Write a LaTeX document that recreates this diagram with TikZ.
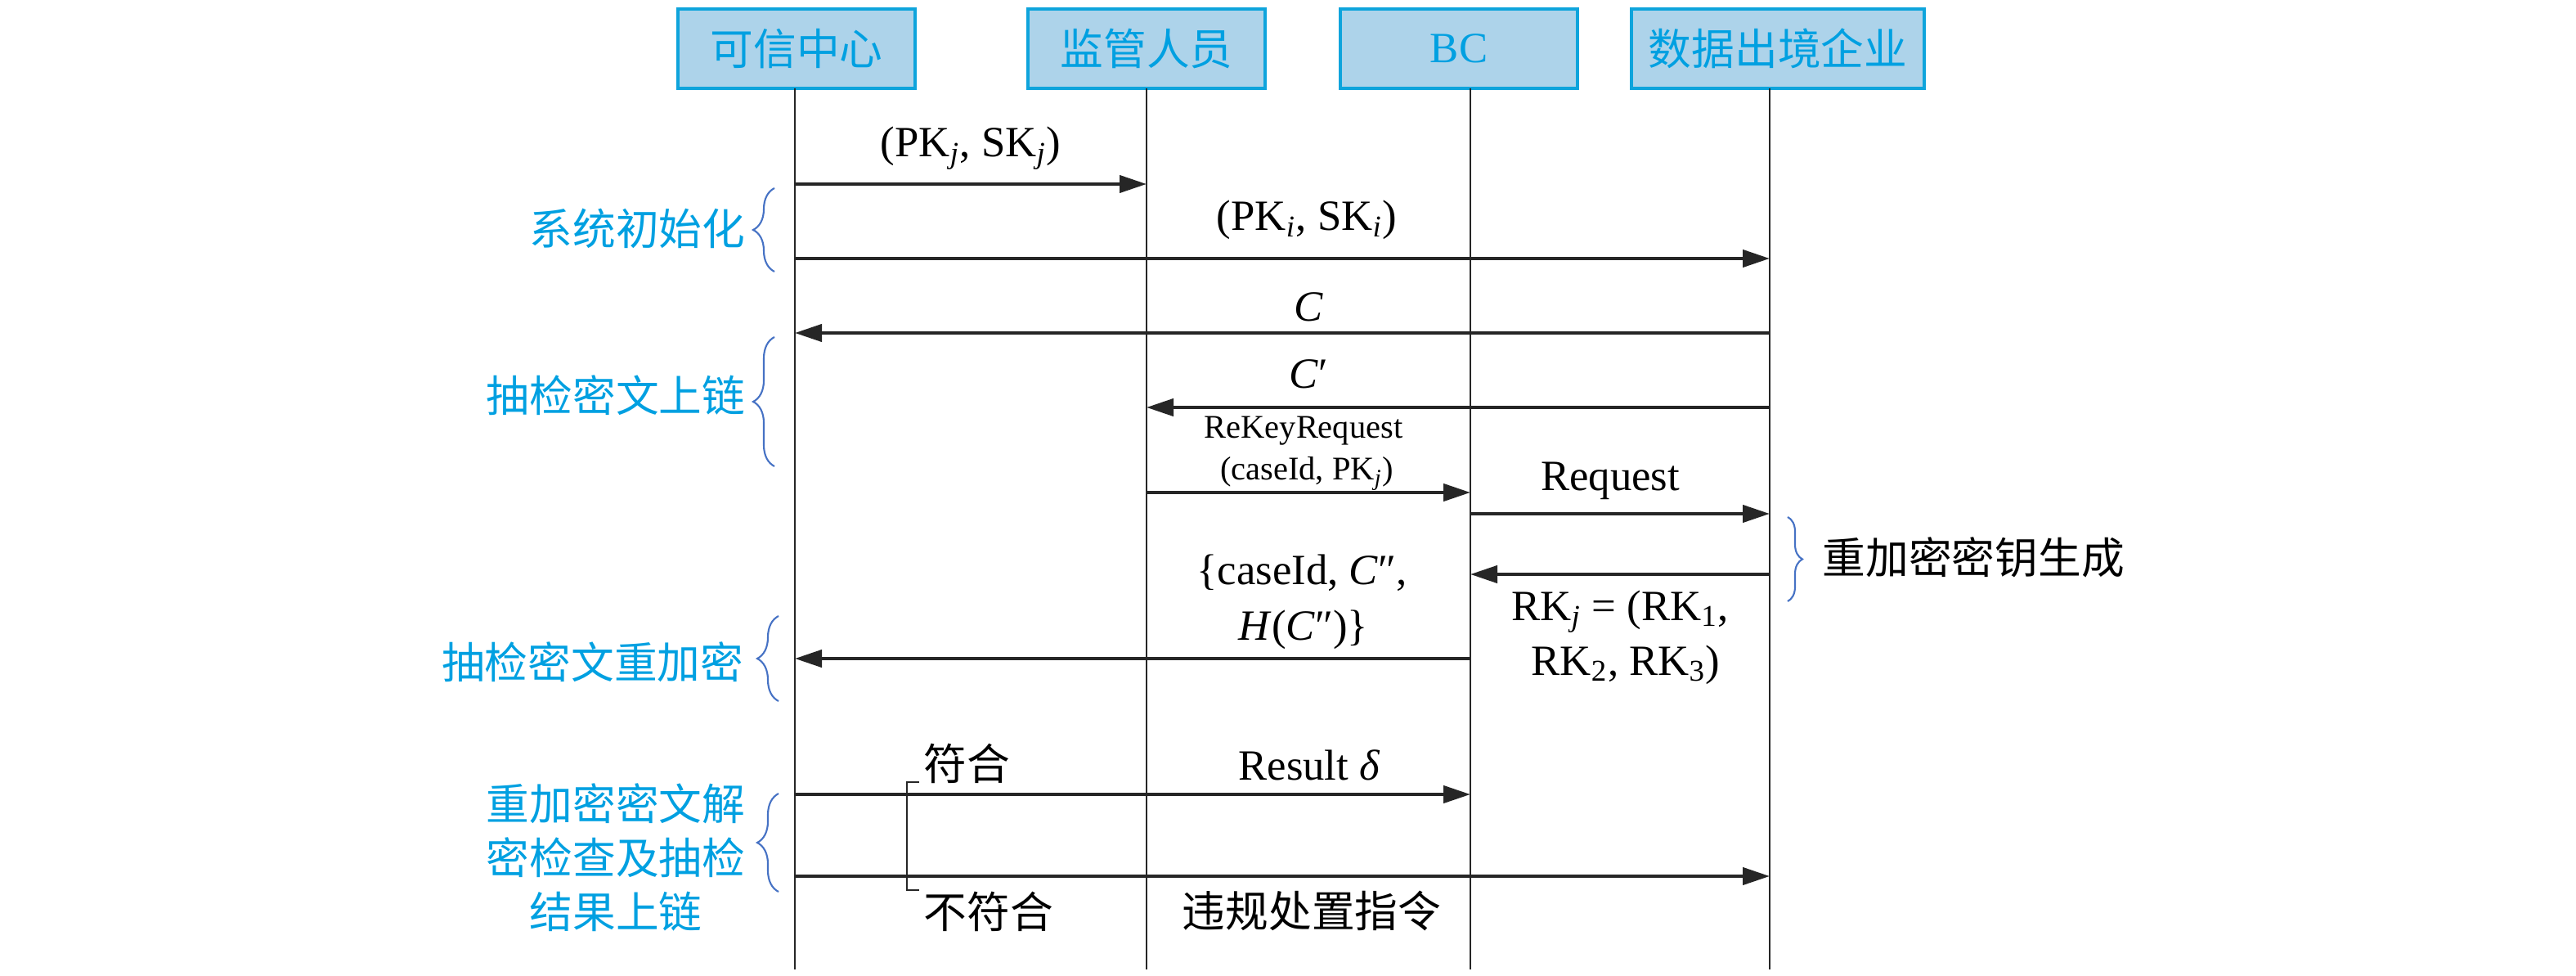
\documentclass[tikz,border=0pt]{standalone}
\usepackage{fontspec}
\setmainfont{Liberation Serif}
\newfontfamily\cjk{Noto Sans CJK SC}
\usetikzlibrary{arrows.meta,decorations.pathreplacing}

\begin{document}
\begin{tikzpicture}[x=1cm,y=1cm,
  txt/.style={font=\fontsize{15}{19}\selectfont},
  cn/.style={font=\cjk\fontsize{15}{18.7}\selectfont},
  small/.style={font=\fontsize{11.5}{15.5}\selectfont},
  actor/.style={draw=boxline, fill=boxfill, line width=0.9pt, text=labelblue,
    minimum height=0.97cm, inner sep=0pt},
  lifeline/.style={line width=0.8pt, black!85},
  msg/.style={line width=1.2pt, black!85, -{Triangle[length=0.33cm,width=0.21cm]}},
  lbl/.style={txt, anchor=base, inner sep=0pt},
  phase/.style={cn, anchor=east, inner sep=0pt, text=labelblue, align=center},
  bracel/.style={decorate, decoration={brace, amplitude=0.26cm}, draw=bracecol, line width=0.6pt},
]
  % Define colors
  \definecolor{boxfill}{RGB}{173,211,234}
  \definecolor{boxline}{RGB}{14,164,220}
  \definecolor{labelblue}{RGB}{0,160,225}
  \definecolor{bracecol}{RGB}{70,114,196}

  \useasboundingbox (0,0) rectangle (31.5,-11.93);

  % Participants at the top
  \node[actor, cn, text=labelblue, minimum width=2.9cm] (tc) at (9.74,-0.595) {可信中心};
  \node[actor, cn, text=labelblue, minimum width=2.9cm] (reg) at (14.02,-0.595) {监管人员};
  \node[actor, txt, text=labelblue, minimum width=2.9cm] (bc) at (17.84,-0.595) {BC};
  \node[actor, cn, text=labelblue, minimum width=3.58cm] (ent) at (21.74,-0.595) {数据出境企业};

  % Lifelines
  \foreach \n/\x in {1/9.72,2/14.02,3/17.98,4/21.64} {
    \coordinate (l\n) at (\x,-1.08);
    \coordinate (e\n) at (\x,-11.85);
    \draw[lifeline] (l\n) -- (e\n);
  }

  % Messages (from lifeline / to lifeline / height)
  \foreach \a/\b/\y in {1/2/2.25, 1/4/3.16, 4/1/4.07, 4/2/4.98, 2/3/6.02,
                        3/4/6.28, 4/3/7.02, 3/1/8.05, 1/3/9.71, 1/4/10.71} {
    \draw[msg] (l\a |- 0,-\y) -- (l\b |- 0,-\y);
  }

  % Message labels
  \node[lbl] (m1) at (11.87,-1.92) {(PK\textsubscript{\textit{j}}, SK\textsubscript{\textit{j}})};
  \node[lbl] (m2) at (15.98,-2.82) {(PK\textsubscript{\textit{i}}, SK\textsubscript{\textit{i}})};
  \node[lbl] (m3) at (16.00,-3.93) {\textit{C}};
  \node[lbl] (m4) at (16.00,-4.75) {\textit{C}′};
  \node[lbl, small] (m5a) at (15.94,-5.35) {ReKeyRequest};
  \node[lbl, small] (m5b) at (15.98,-5.87) {(caseId, PK\textsubscript{\textit{j}})};
  \node[lbl] (m6) at (19.69,-6.00) {Request};
  \node[lbl] (m7a) at (19.81,-7.58) {RK\textsubscript{\textit{j}} = (RK\textsubscript{1},};
  \node[lbl] (m7b) at (19.88,-8.25) {RK\textsubscript{2}, RK\textsubscript{3})};
  \node[lbl] (m8a) at (15.92,-7.15) {\{caseId, \textit{C}″,};
  \node[lbl] (m8b) at (15.94,-7.82) {\textit{H}(\textit{C}″)\}};
  \node[lbl] (m9) at (16.01,-9.53) {Result \textit{δ}};
  \node[cn, inner sep=0pt] (m10) at (16.04,-11.13) {违规处置指令};

  % Check result bracket
  \node[cn, inner sep=0pt] (ok) at (11.82,-9.33) {符合};
  \node[cn, inner sep=0pt] (nok) at (12.09,-11.14) {不符合};
  \coordinate (brt) at (11.24,-9.56);
  \coordinate (brb) at (11.24,-10.88);
  \draw[line width=0.8pt, black!85] (brt) -- ++(-0.15,0) |- (brb);

  % Phases on the left
  \node[phase] (p1) at (9.12,-2.79) {系统初始化};
  \node[phase] (p2) at (9.12,-4.83) {抽检密文上链};
  \node[phase] (p3) at (9.10,-8.09) {抽检密文重加密};
  \node[phase] (p4) at (9.12,-10.48) {重加密密文解\\密检查及抽检\\结果上链};
  \draw[bracel] (9.47,-3.32) -- (9.47,-2.30);
  \draw[bracel] (9.47,-5.70) -- (9.47,-4.12);
  \draw[bracel] (9.52,-8.57) -- (9.52,-7.53);
  \draw[bracel] (9.52,-10.90) -- (9.52,-9.70);

  % Key generation on the right
  \draw[bracel, decoration={brace, amplitude=0.18cm}] (21.86,-6.32) -- (21.86,-7.35);
  \node[cn, anchor=west, inner sep=0pt] (rk) at (22.28,-6.81) {重加密密钥生成};
\end{tikzpicture}
\end{document}
